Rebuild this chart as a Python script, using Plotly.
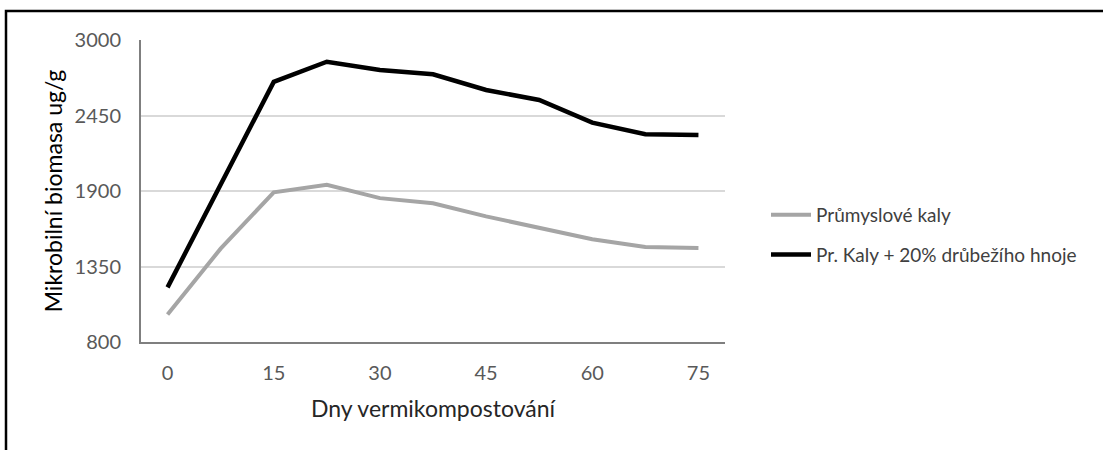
import plotly.graph_objects as go

# Sampling days (every 7.5 days of vermicomposting)
days = [0, 7.5, 15, 22.5, 30, 37.5, 45, 52.5, 60, 67.5, 75]
tick_days = [0, 15, 30, 45, 60, 75]

# Microbial biomass, ug/g
prumyslove_kaly = [1000, 1480, 1890, 1945, 1848, 1810, 1715, 1632, 1548, 1492, 1485]
kaly_drubez = [1198, 1950, 2695, 2842, 2782, 2750, 2636, 2563, 2398, 2313, 2308]

y_ticks = [800, 1350, 1900, 2450, 3000]

FONT = "Lato, 'Open Sans', sans-serif"

fig = go.Figure()
fig.add_trace(go.Scatter(
    x=days, y=prumyslove_kaly, mode="lines", name="Průmyslové kaly",
    legendgroup="a", line=dict(color="#a5a5a5", width=4),
))
fig.add_trace(go.Scatter(
    x=days, y=kaly_drubez, mode="lines", name="Pr. Kaly + 20% drůbežího hnoje",
    legendgroup="b", line=dict(color="#000000", width=4.5),
))

W, H = 1103, 450
L, R, T, B = 141, 725, 40, 342
pw, ph = R - L, B - T

def px_x(v):
    return (v - L) / pw

def px_y(v):
    return (B - v) / ph

fig.update_layout(
    width=W, height=H,
    margin=dict(l=L, r=W - R, t=T, b=H - B),
    paper_bgcolor="white", plot_bgcolor="white",
    font=dict(family=FONT, color="#595959", size=20),
    showlegend=True,
    legend=dict(
        x=px_x(766), y=px_y(196), xanchor="left", yanchor="top",
        font=dict(family=FONT, size=19, color="#404040"),
        tracegroupgap=12, itemwidth=40, bgcolor="rgba(0,0,0,0)",
    ),
    xaxis=dict(
        range=[-3.75, 78.75], tickvals=tick_days, ticktext=[str(d) for d in tick_days],
        showgrid=False, zeroline=False, showline=True, linecolor="#7f7f7f", linewidth=2,
        ticks="", ticklabelstandoff=12,
        title=dict(text="Dny vermikompostování", standoff=18,
                   font=dict(family=FONT, size=23, color="#262626")),
        fixedrange=True,
    ),
    yaxis=dict(
        range=[800, 3000], tickvals=y_ticks, showgrid=True, gridcolor="#d9d9d9", gridwidth=1.5,
        zeroline=False, showline=True, linecolor="#7f7f7f", linewidth=2,
        ticks="", ticklabelstandoff=14,
        title=dict(text="Mikrobilní biomasa ug/g", standoff=6,
                   font=dict(family=FONT, size=23, color="#000000")),
        fixedrange=True,
    ),
    shapes=[dict(
        type="rect", xref="paper", yref="paper",
        x0=px_x(6), x1=px_x(1130), y0=px_y(480), y1=px_y(11),
        line=dict(color="#000000", width=2.5), fillcolor="rgba(0,0,0,0)", layer="below",
    )],
)

fig.write_html("out.html", config={"displayModeBar": False})
